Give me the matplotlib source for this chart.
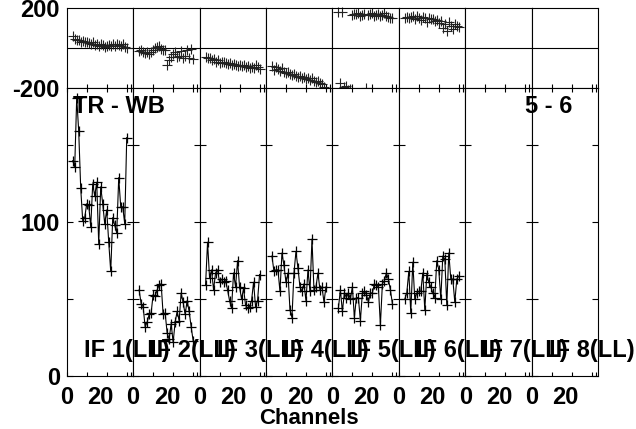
import numpy as np
import matplotlib
matplotlib.use("Agg")
import matplotlib.pyplot as plt
from matplotlib.transforms import ScaledTranslation

plt.rcParams['font.family'] = ['Liberation Sans', 'DejaVu Sans']
plt.rcParams['font.weight'] = 'bold'

# channel numbers used in every IF
channels = np.arange(3, 31)
if_labels = ['IF 1(LL)', 'IF 2(LL)', 'IF 3(LL)', 'IF 4(LL)',
             'IF 5(LL)', 'IF 6(LL)', 'IF 7(LL)', 'IF 8(LL)']

# amplitude per channel, IF 1-6 (IF 7 and 8 have no data)
amp_if1 = [140, 136, 181, 159, 122, 101, 103, 112, 111, 97, 125, 117, 126, 86,
           123, 112, 99, 108, 87, 68, 103, 98, 93, 129, 110, 110, 99, 155]
amp_if2 = [56, 47, 45, 32, 35, 40, 41, 53, 52, 56, 59, 60, 40, 41,
           28, 24, 34, 22, 35, 42, 36, 54, 48, 40, 49, 42, 32, 23]
amp_if3 = [59, 87, 64, 69, 56, 67, 69, 61, 63, 61, 62, 56, 49, 44,
           67, 58, 75, 58, 50, 57, 46, 44, 45, 49, 61, 45, 49, 66]
amp_if4 = [78, 68, 69, 69, 55, 80, 72, 61, 67, 43, 38, 67, 81, 70,
           58, 55, 60, 49, 69, 55, 89, 56, 58, 67, 56, 58, 48, 58]
amp_if5 = [44, 56, 42, 54, 51, 54, 50, 58, 38, 51, 51, 36, 54, 55,
           53, 48, 54, 54, 60, 59, 58, 33, 60, 62, 67, 63, 56, 47]
amp_if6 = [50, 54, 68, 41, 74, 50, 54, 55, 55, 67, 43, 66, 61, 58,
           54, 51, 75, 69, 50, 78, 76, 46, 80, 63, 63, 48, 63, 65]

# phase per channel (degrees)
phase_if1 = [57, 45, 40, 38, 30, 35, 28, 30, 25, 20, 28, 15, 22, 10,
             18, 15, 5, 10, 15, 8, 18, 12, 20, 15, 10, 22, 5, 0]
phase_if2 = [-13, -10, -20, -25, -18, -30, -22, -10, -2, 5, 10, -5, -8, -10,
             -84, -60, -45, -30, -20, -45, -38, -15, -48, -40, -8, -50, -5, -55]
phase_if3 = [-46, -48, -50, -60, -55, -70, -62, -75, -70, -68, -72, -80, -75, -85,
             -78, -82, -88, -85, -90, -82, -95, -88, -98, -92, -100, -85, -95, -104]
phase_if4 = [-90, -110, -95, -105, -115, -100, -120, -125, -118, -130, -135, -128, -140, -145,
             -138, -150, -142, -155, -148, -160, -150, -165, -170, -162, -175, -178, -195, -226]
phase_if5 = [176, -175, 176, -195, -190, -210, -205, 165, 170, 168, 172, 160, 165, 170,
             -198, 162, 168, 175, 160, 165, 170, 158, 165, 172, 160, 155, 150, 146]
phase_if6 = [150, 155, 148, 152, 160, 145, 158, 150, 140, 155, 148, 130, 150, 142,
             145, 135, 140, 125, 132, 100, 120, 85, 128, 110, 95, 120, 110, 102]

amp_list = [amp_if1, amp_if2, amp_if3, amp_if4, amp_if5, amp_if6, None, None]
phase_list = [phase_if1, phase_if2, phase_if3, phase_if4, phase_if5, phase_if6, None, None]

FS = 17


def main():
    fig = plt.figure(figsize=(6.36, 4.29), dpi=100)
    gs = fig.add_gridspec(2, 8, left=0.1049, right=0.9403, top=0.9825, bottom=0.1235,
                          height_ratios=[81, 288], hspace=0, wspace=0)

    for i in range(8):
        axp = fig.add_subplot(gs[0, i])   # phase panel
        axa = fig.add_subplot(gs[1, i])   # amplitude panel
        for ax in (axp, axa):
            ax.set_xlim(0, 33.2)
            for sp in ax.spines.values():
                sp.set_linewidth(0.8)

        # phase: crosses only, zero line across
        axp.set_ylim(-200, 200)
        axp.axhline(0, color='black', lw=0.8)
        if phase_list[i] is not None:
            axp.plot(channels, phase_list[i], linestyle='None', marker='+', color='#222222',
                     markersize=7, mew=0.8, clip_on=False)
        axp.set_xticks([10, 20, 30, 32])
        axp.tick_params(axis='x', direction='in', length=3, width=0.8, labelbottom=False)
        if i == 0:
            axp.set_yticks([-200, 200], ['-200', '200'])
            axp.tick_params(axis='y', length=0, pad=5, labelsize=FS)
        else:
            axp.set_yticks([])

        # amplitude: line with crosses
        axa.set_ylim(0, 187)
        if amp_list[i] is not None:
            axa.plot(channels, amp_list[i], color='black', lw=0.8, marker='+',
                     markersize=7, mew=0.9)
        axa.set_yticks([0, 50, 100, 150])
        axa.set_xticks([0, 10, 20, 30, 32], ['0', '', '20', '', ''])
        axa.tick_params(axis='x', direction='in', length=3, width=0.8, top=True,
                        pad=7, labelsize=FS)
        axa.tick_params(axis='y', direction='in', length=4, width=0.8, right=True,
                        pad=5, labelsize=FS)
        if i == 0:
            axa.set_yticklabels(['0', '', '100', ''])
        else:
            axa.tick_params(axis='y', labelleft=False)
        # the "20" label sits a bit left of its tick in the original
        lab = axa.xaxis.get_major_ticks()[2].label1
        lab.set_transform(lab.get_transform() + ScaledTranslation(-6 / 100, 0, fig.dpi_scale_trans))

        fig.text(0.26, 0.087, if_labels[i], transform=axa.transAxes, ha='left', va='center',
                 fontsize=FS, fontweight='bold')

        if i == 0:
            fig.text(0.095, 0.9375, 'TR - WB', transform=axa.transAxes, ha='left', va='center',
                     fontsize=FS, fontweight='bold')
        if i == 7:
            fig.text(0.613, 0.9375, '5 - 6', transform=axa.transAxes, ha='right', va='center',
                     fontsize=FS, fontweight='bold')

    fig.text(309 / 636, 1 - 419 / 429, 'Channels', ha='center', va='center',
             fontsize=16, fontweight='bold')

    fig.savefig('out.png', dpi=100)


if __name__ == "__main__":
    main()
